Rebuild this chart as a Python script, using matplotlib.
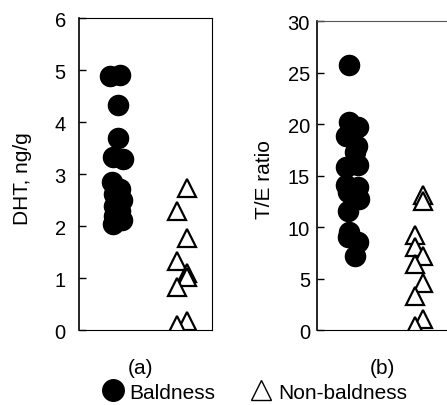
import matplotlib
matplotlib.use("Agg")
import matplotlib.pyplot as plt
from matplotlib.lines import Line2D

plt.rcParams['font.family'] = ['Liberation Sans', 'DejaVu Sans']

# (a) DHT, ng/g
dht_bald = [4.88, 4.90, 4.33, 3.70, 3.32, 3.28, 2.85, 2.72, 2.62, 2.50, 2.38, 2.28, 2.20, 2.12, 2.04]
dht_bald_x = [0.23, 0.31, 0.29, 0.295, 0.255, 0.33, 0.25, 0.31, 0.26, 0.32, 0.26, 0.31, 0.26, 0.32, 0.255]
dht_nonbald = [2.74, 2.29, 1.76, 1.33, 1.10, 1.02, 0.82, 0.18, 0.10]
dht_nonbald_x = [0.81, 0.74, 0.81, 0.74, 0.81, 0.81, 0.74, 0.81, 0.74]

# (b) T/E ratio
te_bald = [25.7, 20.2, 19.7, 18.8, 17.9, 17.3, 16.0, 15.8, 14.1, 13.9, 13.4, 12.7, 11.6, 9.5, 9.0, 8.5, 7.2]
te_bald_x = [0.24, 0.24, 0.31, 0.22, 0.30, 0.29, 0.31, 0.22, 0.22, 0.31, 0.23, 0.32, 0.23, 0.24, 0.23, 0.31, 0.29]
te_nonbald = [13.1, 12.5, 9.2, 8.1, 7.2, 6.4, 4.6, 3.3, 1.1, 0.4]
te_nonbald_x = [0.80, 0.80, 0.74, 0.74, 0.80, 0.74, 0.80, 0.74, 0.80, 0.74]

fig = plt.figure(figsize=(4.47, 4.06), dpi=100)
ax1 = fig.add_axes([0.1767, 0.1847, 0.2975, 0.7685])
ax2 = fig.add_axes([0.709, 0.1847, 0.2975, 0.761])

circ = dict(marker='o', linestyle='none', color='black', markersize=14.5)
tri = dict(marker='^', linestyle='none', markerfacecolor='white', markeredgecolor='black',
           markersize=13, markeredgewidth=1.6)

ax1.plot(dht_bald_x, dht_bald, **circ)
ax1.plot(dht_nonbald_x, dht_nonbald, **tri)
ax2.plot(te_bald_x, te_bald, **circ)
ax2.plot(te_nonbald_x, te_nonbald, **tri)

ax1.set_ylim(0, 6)
ax1.set_yticks(range(0, 7))
ax2.set_ylim(0, 30)
ax2.set_yticks(range(0, 31, 5))

for ax in (ax1, ax2):
    ax.set_xlim(0, 1)
    ax.set_xticks([])
    for s in ax.spines.values():
        s.set_linewidth(0.8)
    ax.spines['left'].set_linewidth(1.2)
    ax.tick_params(axis='y', direction='in', length=5, width=1, labelsize=14.5)

ax1.tick_params(axis='y', pad=9.5)
ax2.tick_params(axis='y', pad=5)
ax2.spines['top'].set_color('#555555')

ax1.set_ylabel('DHT, ng/g', fontsize=15)
ax1.yaxis.set_label_coords(-0.353, 0.49)
ax2.set_ylabel('T/E ratio', fontsize=15)
ax2.yaxis.set_label_coords(-0.323, 0.49)

ax1.text(0.459, -0.119, '(a)', transform=ax1.transAxes, ha='center', va='center', fontsize=15)
ax2.text(0.489, -0.12, '(b)', transform=ax2.transAxes, ha='center', va='center', fontsize=15)

handles = [Line2D([], [], marker='o', linestyle='none', color='black', markersize=15.5),
           Line2D([], [], marker='^', linestyle='none', markerfacecolor='white',
                  markeredgecolor='black', markersize=15, markeredgewidth=1.0)]
fig.legend(handles, ['Baldness', 'Non-baldness'], loc='center', bbox_to_anchor=(0.565, 0.032),
           ncol=2, frameon=False, fontsize=15, handletextpad=0.1, columnspacing=1.5,
           handlelength=1.4, borderaxespad=0)

fig.savefig('out.png', dpi=100)
